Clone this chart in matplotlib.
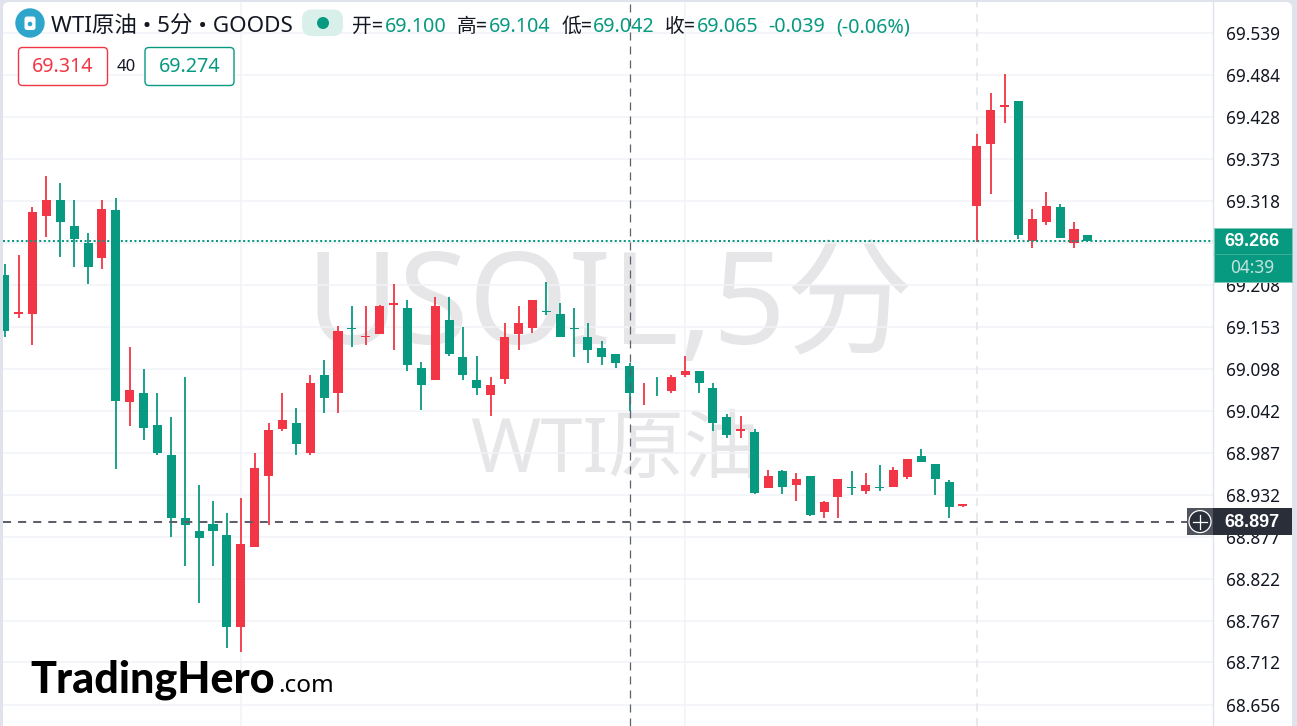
import matplotlib
matplotlib.use('Agg')
import matplotlib.pyplot as plt
from matplotlib.patches import Circle, FancyBboxPatch, Rectangle

plt.rcParams['font.family'] = ['Noto Sans', 'Noto Sans CJK SC', 'DejaVu Sans']

opens = [69.221, 69.170, 69.170, 69.298, 69.320, 69.286, 69.263, 69.243, 69.306, 69.054,
         69.066, 69.024, 68.984, 68.902, 68.884, 68.894, 68.880, 68.758, 68.863, 68.957,
         69.019, 69.027, 68.987, 69.089, 69.066, 69.152, 69.139, 69.144, 69.182, 69.178,
         69.099, 69.083, 69.162, 69.113, 69.083, 69.063, 69.085, 69.144, 69.152, 69.174,
         69.170, 69.152, 69.140, 69.125, 69.117, 69.101, 69.076, 69.077, 69.068, 69.089,
         69.095, 69.073, 69.034, 69.016, 69.015, 68.941, 68.963, 68.945, 68.957, 68.910,
         68.929, 68.943, 68.937, 68.943, 68.943, 68.955, 68.983, 68.973, 68.949, 68.918,
         69.312, 69.393, 69.442, 69.450, 69.266, 69.290, 69.310, 69.263, 69.274]
highs = [69.235, 69.247, 69.310, 69.351, 69.342, 69.320, 69.276, 69.320, 69.322, 69.126,
         69.097, 69.066, 69.034, 69.087, 68.945, 68.924, 68.908, 68.928, 68.987, 69.027,
         69.066, 69.046, 69.090, 69.109, 69.154, 69.180, 69.180, 69.182, 69.209, 69.188,
         69.107, 69.192, 69.192, 69.153, 69.115, 69.087, 69.158, 69.180, 69.188, 69.212,
         69.184, 69.178, 69.158, 69.134, 69.117, 69.105, 69.079, 69.087, 69.090, 69.115,
         69.095, 69.079, 69.038, 69.036, 69.019, 68.965, 68.965, 68.961, 68.957, 68.924,
         68.953, 68.963, 68.961, 68.971, 68.969, 68.979, 68.992, 68.973, 68.952, 68.920,
         69.406, 69.460, 69.485, 69.450, 69.308, 69.330, 69.314, 69.291, 69.274]
lows = [69.139, 69.165, 69.129, 69.271, 69.245, 69.232, 69.209, 69.229, 68.966, 69.023,
        69.004, 68.985, 68.877, 68.838, 68.790, 68.838, 68.731, 68.725, 68.863, 68.893,
        69.016, 68.985, 68.985, 69.040, 69.040, 69.127, 69.129, 69.143, 69.122, 69.095,
        69.044, 69.083, 69.114, 69.083, 69.063, 69.036, 69.078, 69.122, 69.145, 69.168,
        69.140, 69.113, 69.105, 69.103, 69.099, 69.042, 69.050, 69.062, 69.066, 69.087,
        69.066, 69.016, 69.007, 69.007, 68.933, 68.941, 68.933, 68.924, 68.904, 68.902,
        68.902, 68.932, 68.933, 68.937, 68.943, 68.953, 68.975, 68.932, 68.902, 68.916,
        69.264, 69.327, 69.421, 69.268, 69.256, 69.287, 69.270, 69.256, 69.266]
closes = [69.148, 69.173, 69.304, 69.320, 69.290, 69.268, 69.232, 69.308, 69.056, 69.070,
          69.020, 68.987, 68.902, 68.892, 68.875, 68.884, 68.758, 68.868, 68.967, 69.018,
          69.030, 68.999, 69.079, 69.060, 69.148, 69.150, 69.141, 69.180, 69.184, 69.103,
          69.077, 69.180, 69.117, 69.089, 69.073, 69.077, 69.140, 69.158, 69.188, 69.172,
          69.140, 69.150, 69.122, 69.113, 69.105, 69.066, 69.077, 69.076, 69.087, 69.095,
          69.079, 69.026, 69.011, 69.019, 68.935, 68.957, 68.943, 68.953, 68.906, 68.923,
          68.953, 68.941, 68.945, 68.941, 68.965, 68.979, 68.975, 68.953, 68.916, 68.920,
          69.391, 69.438, 69.445, 69.274, 69.295, 69.312, 69.270, 69.282, 69.266]
price_ticks = ['69.539', '69.484', '69.428', '69.373', '69.318', '69.263', '69.208', '69.153', '69.098',
               '69.042', '68.987', '68.932', '68.877', '68.822', '68.767', '68.712', '68.656']
hidden_tick = '69.263'
last_price = 69.266
cross_price = 68.897
cross_bar = 45
session_bar = 70
grid_bars = [17, 49]

GREEN = '#089981'
RED = '#F23645'
BORDER = '#e0e3eb'
GRID = '#f1f3f6'
W, H = 1297, 726
STEP = 13.887
X0 = 4.7
PER_PX = 0.883 / 672

fig = plt.figure(figsize=(W / 100, H / 100), dpi=100, facecolor=BORDER)


def pixel_axes(zorder):
    a = fig.add_axes([0, 0, 1, 1], zorder=zorder)
    a.set_xlim(0, W)
    a.set_ylim(H, 0)
    a.axis('off')
    return a


# white panel and watermarks sit under the price axes
bg = pixel_axes(0)
bg.add_patch(FancyBboxPatch((3, 2), 1289, 740, boxstyle='round,pad=0,rounding_size=6', fc='white', ec='none'))
bg.text(610, 311, 'USOIL,5分', fontsize=92, color='#e6e6e8', ha='center', va='center')
bg.text(615, 452, 'WTI原油', fontsize=54.5, color='#e6e6e8', ha='center', va='center')

ax = fig.add_axes([3 / W, 0, 1210 / W, 724 / H], zorder=1)
ax.patch.set_visible(False)
ax.set_xlim((3 - X0) / STEP, (1213 - X0) / STEP)
ax.set_ylim(69.539 - (726 - 33) * PER_PX, 69.539 - (2 - 33) * PER_PX)
ax.yaxis.tick_right()
# the 69.263 level keeps its grid line, its label is behind the last price box
ax.set_yticks([float(t) for t in price_ticks], ['' if t == hidden_tick else t for t in price_ticks],
              fontsize=12.4, color='#131722')
ax.set_xticks(grid_bars, [])
ax.tick_params(length=0, pad=9.4)
ax.grid(True, color=GRID, lw=1.1, zorder=0)
ax.set_axisbelow(True)
for name, spine in ax.spines.items():
    spine.set_visible(name == 'right')
ax.spines['right'].set_color(BORDER)
ax.spines['right'].set_linewidth(1.0)

ax.axvline(session_bar, color=BORDER, lw=1.1, ls=(0, (5.2, 4.4)), zorder=1)

for i in range(len(opens)):
    color = RED if closes[i] >= opens[i] else GREEN
    ax.vlines(i, lows[i], highs[i], color=color, lw=1.3, zorder=3)
    ax.bar(i, abs(closes[i] - opens[i]), bottom=min(opens[i], closes[i]), width=0.65, color=color, lw=0, zorder=3)

ax.axhline(last_price, color=GREEN, lw=1.45, ls=(0, (1, 1.25)), zorder=4)
ax.axhline(cross_price, color='#5d606b', lw=1.45, ls=(0, (4, 3.5)), zorder=5)
ax.axvline(cross_bar, color='#5d606b', lw=0.9, ls=(0, (6.4, 4.8)), zorder=5)


def price_y(p):
    return H - ax.transData.transform((0, p))[1]


ov = pixel_axes(2)

# header line
ov.add_patch(Circle((30, 23), 14.7, fc='#2ea6cb', ec='none'))
ov.add_patch(FancyBboxPatch((24.5, 16.5), 11, 13.5, boxstyle='round,pad=0,rounding_size=2.5', fc='white', ec='none'))
ov.add_patch(Circle((30, 24), 2.3, fc='#2ea6cb', ec='none'))
ov.text(51, 27, 'WTI原油 • 5分 • GOODS', fontsize=16.2, color='#131722', va='center')
ov.add_patch(FancyBboxPatch((302, 9.5), 41, 26.5, boxstyle='round,pad=0,rounding_size=10', fc='#d9efea', ec='none'))
ov.add_patch(Circle((323, 23), 6, fc=GREEN, ec='none'))

header = [(352, '开=', '#131722'), (385, '69.100', GREEN),
          (457, '高=', '#131722'), (489, '69.104', GREEN),
          (562, '低=', '#131722'), (593, '69.042', GREEN),
          (665, '收=', '#131722'), (697, '69.065', GREEN),
          (768, '-0.039', GREEN), (836, '(-0.06%)', GREEN)]
for x, s, c in header:
    ov.text(x, 27, s, fontsize=14.2, color=c, va='center')

# bid / ask buttons
for x, s, c in [(18.5, '69.314', RED), (145, '69.274', GREEN)]:
    ov.add_patch(FancyBboxPatch((x, 47.5), 89, 38, boxstyle='round,pad=0,rounding_size=4', fc='white', ec=c, lw=1))
    ov.text(x + 44.5, 67.5, s, fontsize=14.2, color=c, ha='center', va='center')
ov.text(126, 67, '40', fontsize=12, color='#131722', ha='center', va='center')

# last price label
y_last = price_y(last_price)
ov.add_patch(Rectangle((1214, y_last - 13), 77.5, 54, fc=GREEN, ec='#7cc7b8', lw=0.7))
ov.plot([1214, 1291], [y_last + 13.5, y_last + 13.5], color='#3aad97', lw=0.8)
ov.text(1252, y_last + 0.5, '%.3f' % last_price, fontsize=13, color='white', family='Liberation Sans', fontweight='bold', ha='center', va='center')
ov.text(1252, y_last + 27.5, '04:39', fontsize=12.4, color='#c3e5de', ha='center', va='center')

# crosshair label with the plus button
y_cross = price_y(cross_price)
ov.add_patch(Rectangle((1187, y_cross - 13.5), 104.5, 27, fc='#2a2e39', ec='none'))
ov.add_patch(Rectangle((1187, y_cross - 13.5), 26, 27, fc='#50535e', ec='none'))
ov.add_patch(Circle((1200, y_cross), 11, fc='#2a2e39', ec='white', lw=0.9))
ov.plot([1193, 1207], [y_cross, y_cross], color='white', lw=0.9)
ov.plot([1200, 1200], [y_cross - 7, y_cross + 7], color='white', lw=0.9)
ov.text(1252, y_cross + 0.5, '%.3f' % cross_price, fontsize=13, color='white', family='Liberation Sans', fontweight='bold', ha='center', va='center')

# logo
ov.text(30, 692, 'TradingHero', fontsize=31, color='black', family='Lato', fontweight='black', va='baseline')
ov.text(278, 692, '.com', fontsize=17.5, color='black', family='Noto Sans', va='baseline')

fig.savefig('out.png', dpi=100, facecolor=fig.get_facecolor())
